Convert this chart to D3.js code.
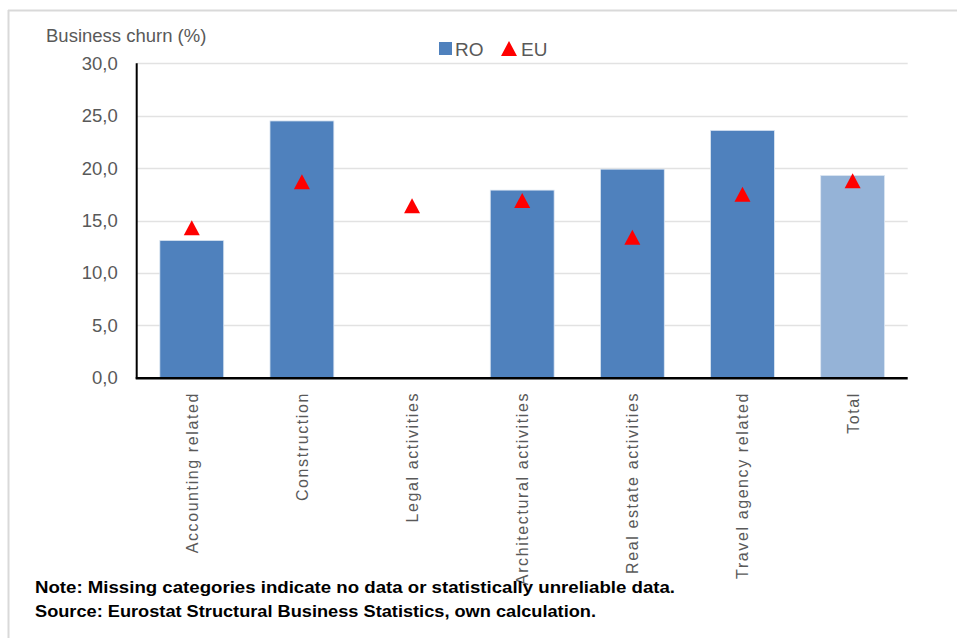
<!DOCTYPE html>
<html>
<head>
<meta charset="utf-8">
<script src="https://cdn.jsdelivr.net/npm/d3@7"></script>
<style>
  body { margin: 0; background: #fff; }
  svg { display: block; font-family: "Liberation Sans", Arial, sans-serif; }
</style>
</head>
<body>
<svg id="chart" width="957" height="638"></svg>
<script>
const categories = ["Accounting related", "Construction", "Legal activities", "Architectural activities", "Real estate activities", "Travel agency related", "Total"];
const roValues = [13.1, 24.5, null, 17.9, 19.9, 23.6, 19.3];
const euValues = [14.3, 18.7, 16.4, 16.9, 13.4, 17.5, 18.8];
const yTicks = [0, 5, 10, 15, 20, 25, 30];
const seriesNames = ["RO", "EU"];
const yTitle = "Business churn (%)";
const notes = ["Note: Missing categories indicate no data or statistically unreliable data.",
               "Source: Eurostat Structural Business Statistics, own calculation."];

(function () {
const svg = d3.select("#chart");

// outer frame (top and left edges visible)
svg.append("line").attr("x1", 8).attr("x2", 957).attr("y1", 10.5).attr("y2", 10.5)
  .attr("stroke", "#d9d9d9").attr("stroke-width", 2);
svg.append("line").attr("x1", 8.5).attr("x2", 8.5).attr("y1", 10).attr("y2", 638)
  .attr("stroke", "#d9d9d9").attr("stroke-width", 2);

const pLeft = 136.7, pRight = 907.7, pTop = 63.3, pBottom = 377.7;
const x = d3.scaleBand().domain(categories).range([pLeft, pRight]).paddingInner(0.42).paddingOuter(0.21);
const y = d3.scaleLinear().domain([0, 30]).range([pBottom, pTop]);

// gridlines
svg.append("g").selectAll("line").data(yTicks.filter(d => d > 0)).join("line")
  .attr("x1", pLeft).attr("x2", pRight)
  .attr("y1", d => Math.round(y(d)) + 0.5).attr("y2", d => Math.round(y(d)) + 0.5)
  .attr("stroke", "#e2e2e2").attr("stroke-width", 1.3);

// y axis via d3 axis
const yAxis = svg.append("g").attr("transform", `translate(${pLeft},0)`)
  .call(d3.axisLeft(y).tickValues(yTicks).tickSize(0).tickPadding(19)
    .tickFormat(d => d3.format(".1f")(d).replace(".", ",")));
yAxis.select(".domain").remove();
yAxis.selectAll("text").attr("font-size", 18.5).attr("fill", "#595959")
  .attr("font-family", "Liberation Sans, Arial, sans-serif");

// bars
const bars = categories.map((c, i) => ({ c, v: roValues[i], i })).filter(d => d.v !== null);
svg.append("g").selectAll("rect").data(bars).join("rect")
  .attr("x", d => x(d.c)).attr("width", x.bandwidth())
  .attr("y", d => y(d.v)).attr("height", d => y(0) - y(d.v))
  .attr("fill", d => d.c === "Total" ? "#95b3d7" : "#4f81bd")
  .attr("stroke", "#dce6f2").attr("stroke-width", 0.8);

// axis lines
svg.append("line").attr("x1", pLeft).attr("x2", pLeft).attr("y1", pTop).attr("y2", pBottom + 1)
  .attr("stroke", "#000").attr("stroke-width", 2);
svg.append("line").attr("x1", pLeft - 1).attr("x2", pRight).attr("y1", pBottom + 0.5).attr("y2", pBottom + 0.5)
  .attr("stroke", "#000").attr("stroke-width", 2.5);

// triangles (EU)
const triW = 16, triH = 15;
const triPath = (cx, cy) => `M${cx},${cy - triH / 2}L${cx + triW / 2},${cy + triH / 2}L${cx - triW / 2},${cy + triH / 2}Z`;
svg.append("g").selectAll("path").data(categories.map((c, i) => ({ c, v: euValues[i] })).filter(d => d.v !== null))
  .join("path")
  .attr("d", d => triPath(x(d.c) + x.bandwidth() / 2, y(d.v)))
  .attr("fill", "#ff0000");

// category labels
svg.append("g").selectAll("text").data(categories).join("text")
  .attr("transform", d => `translate(${x(d) + x.bandwidth() / 2 + 6},392) rotate(-90)`)
  .attr("text-anchor", "end")
  .attr("font-size", 16).attr("letter-spacing", 1.6)
  .attr("fill", "#595959")
  .text(d => d);

// y title
svg.append("text").attr("x", 46).attr("y", 42).attr("font-size", 18.5).attr("fill", "#595959").text(yTitle);

// legend
const lg = svg.append("g");
lg.append("rect").attr("x", 439).attr("y", 42).attr("width", 13).attr("height", 13).attr("fill", "#4f81bd");
lg.append("text").attr("x", 455).attr("y", 55.5).attr("font-size", 19).attr("fill", "#595959").text(seriesNames[0]);
lg.append("path").attr("d", triPath(509, 48.5)).attr("fill", "#ff0000");
lg.append("text").attr("x", 521).attr("y", 55.5).attr("font-size", 19).attr("fill", "#595959").text(seriesNames[1]);

// notes
const nl = [640, 561];
svg.append("g").selectAll("text").data(notes).join("text")
  .attr("x", 35).attr("y", (d, i) => 593 + i * 24)
  .attr("font-size", 17).attr("font-weight", "bold").attr("fill", "#000")
  .attr("textLength", (d, i) => nl[i]).attr("lengthAdjust", "spacingAndGlyphs")
  .text(d => d);
})();
</script>
</body>
</html>
